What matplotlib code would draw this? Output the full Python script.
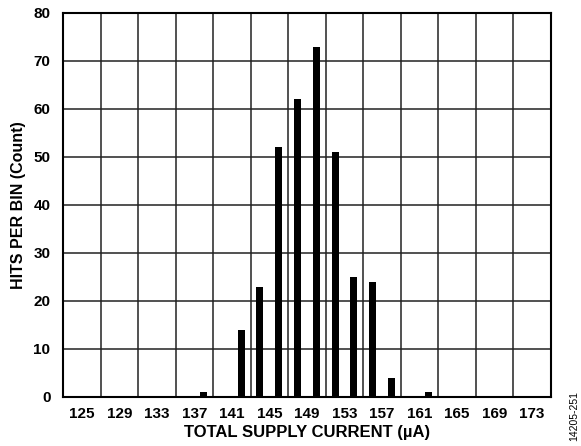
import matplotlib.pyplot as plt
import numpy as np

plt.rcParams["font.family"] = ["Liberation Sans", "DejaVu Sans"]

# histogram bins (uA) and counts
current = [138, 142, 144, 146, 148, 150, 152, 154, 156, 158, 162]
hits = [1, 14, 23, 52, 62, 73, 51, 25, 24, 4, 1]
x_labels = list(range(125, 174, 4))
y_ticks = list(range(0, 81, 10))

fig = plt.figure(figsize=(5.81, 4.46), dpi=100)
ax = fig.add_axes([0.1084, 0.11, 0.8396, 0.861])

ax.bar(current, hits, width=0.75, color="black", zorder=3)

ax.set_xlim(123, 175)
ax.set_ylim(0, 80)
ax.set_xticks(x_labels)
ax.set_xticklabels([str(v) for v in x_labels], fontweight="bold", fontsize=11)
ax.set_xticks(np.arange(127, 173, 4), minor=True)
ax.set_yticks(y_ticks)
ax.set_yticklabels([str(v) for v in y_ticks], fontweight="bold", fontsize=11)
ax.tick_params(which="both", length=0)
ax.tick_params(axis="x", pad=7)
ax.tick_params(axis="y", pad=9)

# grid: horizontal at major y ticks, vertical at cell borders
ax.grid(axis="y", which="major", color="#222222", linewidth=1.1, zorder=1)
ax.grid(axis="x", which="minor", color="#222222", linewidth=1.1, zorder=1)
ax.grid(axis="x", which="major", visible=False)

for s in ax.spines.values():
    s.set_linewidth(1.5)
    s.set_color("black")

ax.set_xlabel("TOTAL SUPPLY CURRENT (µA)", fontweight="bold", fontsize=12)
ax.set_ylabel("HITS PER BIN (Count)", fontweight="bold", fontsize=11.5)
ax.xaxis.set_label_coords(0.5, -0.073)
ax.yaxis.set_label_coords(-0.076, 0.5)

fig.text(0.988, 0.067, "14205-251", rotation=90, fontsize=7.5, ha="center", va="center")

fig.savefig("out.png", dpi=100)
